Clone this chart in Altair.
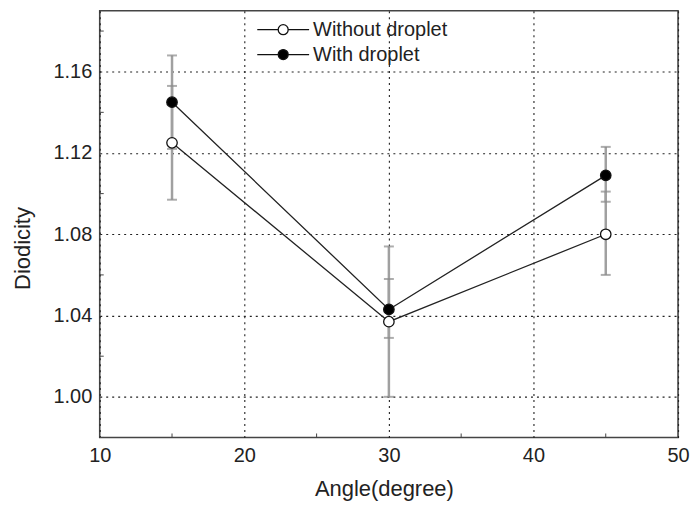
import altair as alt
import pandas as pd

angles = [15, 30, 45]
series_names = ["Without droplet", "With droplet"]
without_vals = [1.125, 1.037, 1.080]
without_lo = [1.097, 1.000, 1.060]
without_hi = [1.153, 1.074, 1.101]
with_vals = [1.145, 1.043, 1.109]
with_lo = [1.122, 1.029, 1.096]
with_hi = [1.168, 1.058, 1.123]
x_ticks = [10, 20, 30, 40, 50]
y_ticks = [1.00, 1.04, 1.08, 1.12, 1.16]
y_minor = [0.98, 1.02, 1.06, 1.10, 1.14, 1.18]
x_minor = [15, 25, 35, 45]

rows = []
for name, v, lo, hi in [(series_names[0], without_vals, without_lo, without_hi),
                        (series_names[1], with_vals, with_lo, with_hi)]:
    for a, vv, l, h in zip(angles, v, lo, hi):
        rows.append({"angle": a, "val": vv, "lo": l, "hi": h, "series": name})
df = pd.DataFrame(rows)

FONT = "Liberation Sans"
xscale = alt.Scale(domain=[10, 50], nice=False, zero=False)
yscale = alt.Scale(domain=[0.98, 1.19], nice=False, zero=False)

xax = alt.Axis(values=x_ticks, format="d", grid=True, gridDash=[2, 4], gridColor="#222",
               gridWidth=1.1, tickSize=0, domain=False, labelPadding=8, labelFlush=False,
               labelFontSize=20, titleFontSize=22, labelFont=FONT, titleFont=FONT,
               labelColor="#222", titleColor="#222", titleFontWeight="normal",
               titlePadding=13, titleX=285, title="Angle(degree)")
yax = alt.Axis(values=y_ticks, format=".2f", grid=True, gridDash=[2, 4], gridColor="#222",
               gridWidth=1.1, tickSize=0, domain=False, labelPadding=8, labelFlush=False,
               labelFontSize=20, titleFontSize=22, labelFont=FONT, titleFont=FONT,
               labelColor="#222", titleColor="#222", titleFontWeight="normal",
               titlePadding=19, titleY=238, title="Diodicity")

base = alt.Chart(df)

err = base.mark_rule(color="#a0a0a0", strokeWidth=2.5).encode(
    x=alt.X("angle:Q", scale=xscale, axis=xax),
    y=alt.Y("lo:Q", scale=yscale, axis=yax),
    y2="hi:Q",
)
cap_lo = base.mark_tick(color="#8a8a8a", orient="horizontal", size=10, thickness=2).encode(
    x=alt.X("angle:Q", scale=xscale), y=alt.Y("lo:Q", scale=yscale))
cap_hi = base.mark_tick(color="#8a8a8a", orient="horizontal", size=10, thickness=2).encode(
    x=alt.X("angle:Q", scale=xscale), y=alt.Y("hi:Q", scale=yscale))

lines = base.mark_line(color="#222", strokeWidth=1.3).encode(
    x=alt.X("angle:Q", scale=xscale),
    y=alt.Y("val:Q", scale=yscale),
    detail="series:N",
)

# symbol drawn wider than its nominal size (unit = 10px)
legend_path = ("M-2.6,0L-0.5,0M0.5,0L2.6,0"
               "M-0.5,0A0.5,0.5 0 1,0 0.5,0A0.5,0.5 0 1,0 -0.5,0Z")

points = base.mark_point(shape="circle", size=110, stroke="#111", strokeWidth=1.3, opacity=1).encode(
    x=alt.X("angle:Q", scale=xscale),
    y=alt.Y("val:Q", scale=yscale),
    fill=alt.Fill("series:N",
                  scale=alt.Scale(domain=series_names, range=["white", "black"]),
                  legend=alt.Legend(title=None, orient="none", legendX=173, legendY=8,
                                    symbolType=legend_path, symbolSize=400,
                                    symbolStrokeColor="#111", symbolStrokeWidth=1.3,
                                    labelFontSize=20, labelFont=FONT, labelColor="#222",
                                    labelExpr="datum.label == 'With droplet' ? '\u00a0With droplet' : datum.label",
                                    labelOffset=19, rowPadding=4, padding=0)),
)

df_ym = pd.DataFrame({"y": y_minor})
ymin_l = alt.Chart(df_ym).mark_rule(color="#444", strokeWidth=1).encode(
    y=alt.Y("y:Q", scale=yscale), x=alt.value(0), x2=alt.value(4))
df_xm = pd.DataFrame({"x": x_minor})
xmin_b = alt.Chart(df_xm).mark_rule(color="#444", strokeWidth=1).encode(
    x=alt.X("x:Q", scale=xscale), y=alt.value(428), y2=alt.value(424))

chart = alt.layer(err, cap_lo, cap_hi, ymin_l, xmin_b, lines, points).properties(
    width=580, height=428,
    background="white",
    autosize=alt.AutoSizeParams(type="none"),
    padding={"left": 92, "top": 2, "right": 12, "bottom": 74},
).configure_view(stroke="#444", strokeWidth=1.6)

chart.save("out.html", embed_options={"renderer": "svg", "actions": False})
